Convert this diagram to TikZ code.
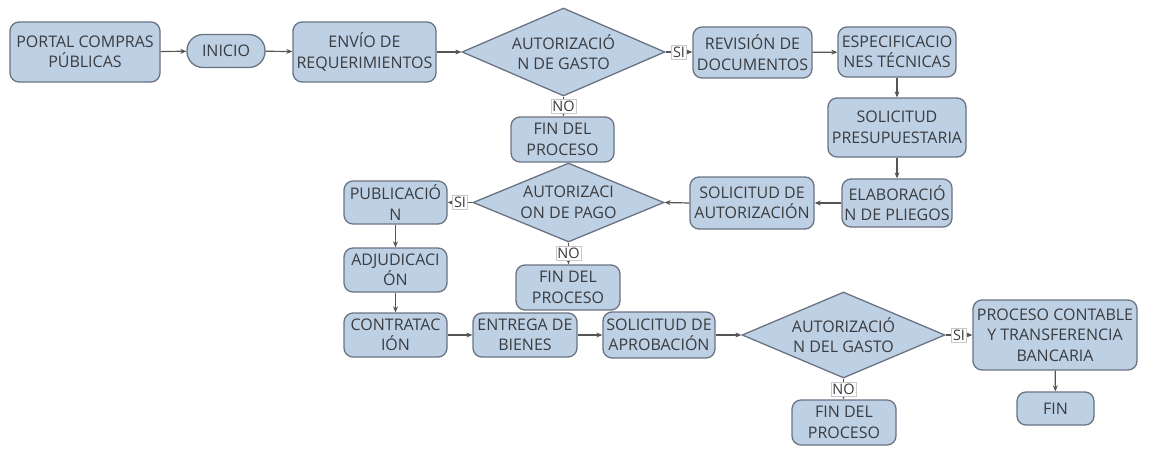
\documentclass[tikz,border=0pt]{standalone}
\usepackage{fontspec}
\setmainfont{Open Sans}
\usetikzlibrary{shapes.geometric,arrows.meta}
\definecolor{boxfill}{RGB}{190,208,228}
\definecolor{boxline}{RGB}{105,115,130}
\definecolor{txt}{RGB}{58,60,64}
\definecolor{wire}{RGB}{85,85,85}
\definecolor{lblline}{RGB}{200,200,200}
\begin{document}
\begin{tikzpicture}[x=1pt,y=-1pt,
  box/.style={draw=boxline, fill=boxfill, line width=1.3pt, rounded corners=9pt,
    align=center, text=txt, inner sep=1pt,
    font=\fontsize{16}{20.5}\selectfont},
  pill/.style={box, rounded corners=16pt},
  decision/.style={diamond, draw=boxline, fill=boxfill, line width=1.3pt,
    align=center, text=txt, inner sep=0pt, aspect=2.3,
    font=\fontsize{16}{20.5}\selectfont},
  conn/.style={draw=wire, line width=1.2pt, -{Stealth[length=6pt,width=5pt]}},
  lbl/.style={fill=white, draw=lblline, line width=0.5pt, inner sep=1.5pt,
    text=txt, font=\fontsize{14.5}{16}\selectfont}
]
\useasboundingbox (0,0) rectangle (1152,450);

% first row
\node[box, minimum width=150, minimum height=60] (portal) at (85,52) {PORTAL COMPRAS\\PÚBLICAS};
\node[pill, minimum width=78, minimum height=33] (inicio) at (226,51) {INICIO};
\node[box, minimum width=143, minimum height=60] (envio) at (364.5,52) {ENVÍO DE\\REQUERIMIENTOS};
\node[decision, minimum width=203, minimum height=88] (d1) at (563.5,52) {AUTORIZACIÓ\\N DE GASTO};
\node[box, minimum width=119, minimum height=51] (revision) at (752.5,52.5) {REVISIÓN DE\\DOCUMENTOS};
\node[box, minimum width=118, minimum height=50] (espec) at (897,52) {ESPECIFICACIO\\NES TÉCNICAS};
\node[box, minimum width=103, minimum height=45] (fin1) at (562.5,139.5) {FIN DEL\\PROCESO};

% right column and second row
\node[box, minimum width=138, minimum height=59] (solpres) at (897,127.5) {SOLICITUD\\PRESUPUESTARIA};
\node[box, minimum width=110, minimum height=48] (elab) at (897,203) {ELABORACIÓ\\N DE PLIEGOS};
\node[box, minimum width=124, minimum height=52] (solaut) at (752,203) {SOLICITUD DE\\AUTORIZACIÓN};
\node[decision, minimum width=191, minimum height=79] (d2) at (568.5,202.5) {AUTORIZACI\\ON DE PAGO};
\node[box, minimum width=103, minimum height=43] (publ) at (395.5,202.5) {PUBLICACIÓ\\N};
\node[box, minimum width=104, minimum height=45] (fin2) at (568,287.5) {FIN DEL\\PROCESO};

% left column and third row
\node[box, minimum width=103, minimum height=44] (adjud) at (395.5,270) {ADJUDICACI\\ÓN};
\node[box, minimum width=103, minimum height=44] (contrat) at (395.5,335) {CONTRATAC\\IÓN};
\node[box, minimum width=104, minimum height=44] (entrega) at (525,335) {ENTREGA DE\\BIENES};
\node[box, minimum width=112, minimum height=46] (solapr) at (659,335) {SOLICITUD DE\\APROBACIÓN};
\node[decision, minimum width=203, minimum height=86] (d3) at (843.5,335) {AUTORIZACIÓ\\N DEL GASTO};
\node[box, minimum width=164, minimum height=70] (proceso) at (1055,335) {PROCESO CONTABLE\\Y TRANSFERENCIA\\BANCARIA};
\node[box, minimum width=77, minimum height=33] (fin) at (1055.5,408.5) {FIN};
\node[box, minimum width=104, minimum height=45] (fin3) at (844,422.5) {FIN DEL\\PROCESO};

% connectors
\draw[conn] (portal) -- (inicio);
\draw[conn] (inicio) -- (envio);
\draw[conn] (envio) -- (d1);
\draw[conn] (d1.east) -- node[lbl] (si1) {SI} (revision.west |- d1.east);
\draw[conn] (d1.south) -- node[lbl] (no1) {NO} (fin1.north -| d1.south);
\draw[conn] (revision) -- (espec);
\draw[conn] (espec) -- (solpres);
\draw[conn] (solpres) -- (elab);
\draw[conn] (elab) -- (solaut);
\draw[conn] (solaut.west) -- (d2.east);
\draw[conn] (d2.west) -- node[lbl] (si2) {SI} (publ.east);
\draw[conn] (d2.south) -- node[lbl] (no2) {NO} (fin2.north -| d2.south);
\draw[conn] (publ) -- (adjud);
\draw[conn] (adjud) -- (contrat);
\draw[conn] (contrat) -- (entrega);
\draw[conn] (entrega) -- (solapr);
\draw[conn] (solapr) -- (d3.west);
\draw[conn] (d3.east) -- node[lbl] (si3) {SI} (proceso.west);
\draw[conn] (d3.south) -- node[lbl] (no3) {NO} (fin3.north -| d3.south);
\draw[conn] (proceso) -- (fin);
\end{tikzpicture}
\end{document}
